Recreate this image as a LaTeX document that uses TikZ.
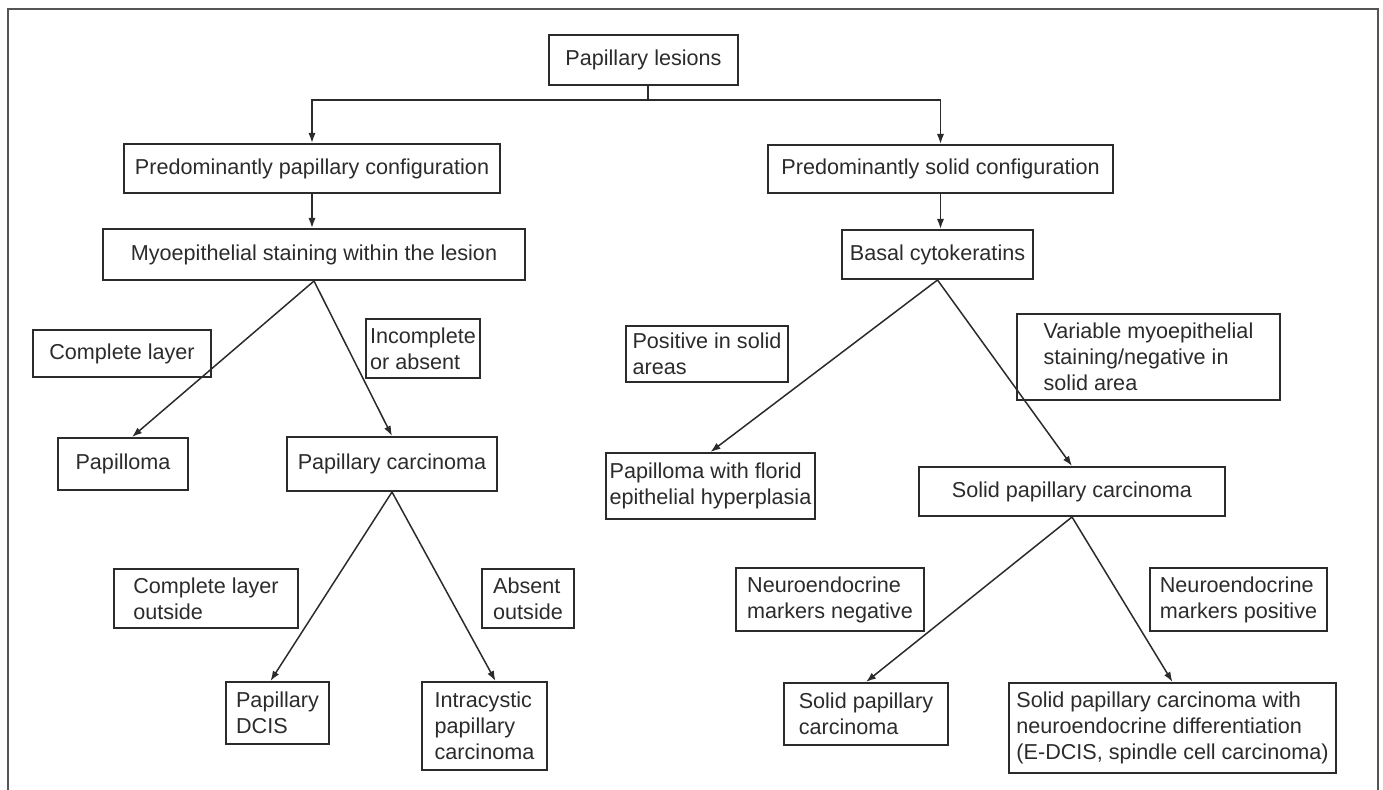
\documentclass[tikz,border=0pt]{standalone}
\usepackage{fontspec}
\setmainfont{Liberation Sans}
\usetikzlibrary{arrows.meta}
\definecolor{ink}{HTML}{2B2B2B}

\begin{document}
\begin{tikzpicture}[x=0.5pt,y=-0.5pt,
  font=\fontsize{10.8}{13}\selectfont,text=ink,
  box/.style={draw=ink,line width=1pt,align=left,inner sep=2pt},
  sz/.style 2 args={minimum width=#1*0.5pt,minimum height=#2*0.5pt},
  arr/.style={draw=ink,line width=.75pt,-{Latex[length=5pt,width=3.6pt]}}]
\useasboundingbox (0,0) rectangle (1383,790);
\draw[ink!80,line width=.8pt] (8,790) -- (8,9) -- (1378,9) -- (1378,790);
% top level
\node[box,sz={189}{50}] (lesions) at (643.5,60) {Papillary lesions};
\node[box,sz={376}{49}] (papconf) at (312,168.5) {Predominantly papillary configuration};
\node[box,sz={345}{48}] (solidconf) at (940.5,169) {Predominantly solid configuration};
\node[box,sz={422}{51}] (myo) at (314,254.5) {Myoepithelial staining within the lesion};
\node[box,sz={191}{49}] (basal) at (937.5,254.5) {Basal cytokeratins};
% left branch
\node[box,sz={178}{47}] (complete) at (122,353.5) {Complete layer};
\node[box,sz={102}{59}] (incomplete) at (423,348.5) {Incomplete\\or absent};
\node[box,sz={130}{52}] (papilloma) at (123,464) {Papilloma};
\node[box,sz={210}{54}] (papcarc) at (392,464) {Papillary carcinoma};
\node[box,sz={184}{59}] (completeout) at (206,598.5) {Complete layer\\outside};
\node[box,sz={92}{59}] (absentout) at (528,598.5) {Absent\\outside};
\node[box,sz={103}{62}] (dcis) at (277.5,713) {Papillary\\DCIS};
\node[box,sz={125}{88}] (intracystic) at (484.5,726) {Intracystic\\papillary\\carcinoma};
% right branch
\node[box,sz={162}{56}] (positive) at (707,354) {Positive in solid\\areas};
\node[box,sz={263}{86}] (variable) at (1148.5,357) {Variable myoepithelial\\staining/negative in\\solid area};
\node[box,sz={191}{66}] (florid) at (710.5,486) {Papilloma with florid\\epithelial hyperplasia};
\node[box,sz={306}{49}] (spc) at (1072,491.5) {Solid papillary carcinoma};
\node[box,sz={188}{63}] (neuroneg) at (830,599.5) {Neuroendocrine\\markers negative};
\node[box,sz={177}{63}] (neuropos) at (1238.5,599.5) {Neuroendocrine\\markers positive};
\node[box,sz={164}{62}] (spcbot) at (866,714) {Solid papillary\\carcinoma};
\node[box,sz={327}{90}] (spcnd) at (1172.5,728) {Solid papillary carcinoma with\\neuroendocrine differentiation\\(E-DCIS, spindle cell carcinoma)};
% connectors
\coordinate (bar) at (648,100);
\draw[ink,line width=.75pt] (lesions.south -| bar) -- (bar);
\draw[arr] (bar) -| (papconf.north);
\draw[arr] (bar) -| (solidconf.north);
\draw[arr] (papconf.south) -- (papconf.south |- myo.north);
\draw[arr] (solidconf.south) -- (solidconf.south |- basal.north);
\draw[arr] (myo.south) -- ([xshift=4.5pt]papilloma.north);
\draw[arr] (myo.south) -- (papcarc.north);
\draw[arr] (papcarc.south) -- ([xshift=-3.5pt]dcis.north);
\draw[arr] (papcarc.south) -- ([xshift=5.5pt]intracystic.north);
\draw[arr] (basal.south) -- (florid.north);
\draw[arr] (basal.south) -- (spc.north);
\draw[arr] (spc.south) -- (spcbot.north);
\draw[arr] (spc.south) -- (spcnd.north);
\end{tikzpicture}
\end{document}
